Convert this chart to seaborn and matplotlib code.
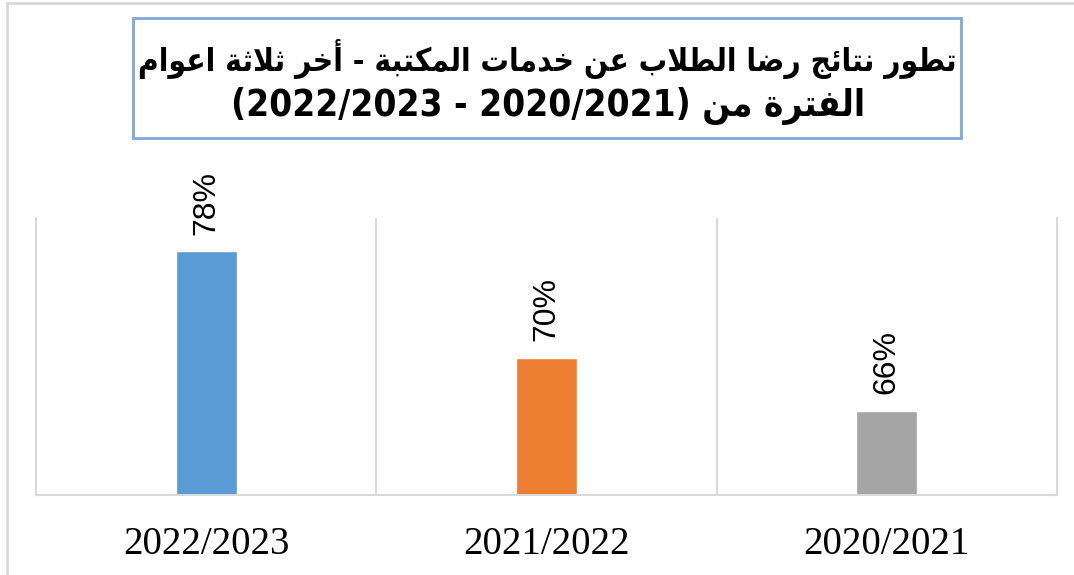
import matplotlib
matplotlib.use("Agg")
import matplotlib.pyplot as plt
from matplotlib.patches import Rectangle
import seaborn as sns
import pandas as pd

# ---- data ----
categories = ["2022/2023", "2021/2022", "2020/2021"]
values = [78, 70, 66]
colors = ["#5B9BD5", "#ED7D31", "#A5A5A5"]
title_line1 = "تطور نتائج رضا الطلاب عن خدمات المكتبة - أخر ثلاثة اعوام"
title_line2_ar = "الفترة من"
period = ("2020/2021", "2022/2023")

# ---- minimal Arabic shaping (presentation forms) ----
FORMS = {
    'ا': (0xFE8D, 0xFE8E, None, None), 'أ': (0xFE83, 0xFE84, None, None),
    'ب': (0xFE8F, 0xFE90, 0xFE91, 0xFE92), 'ة': (0xFE93, 0xFE94, None, None),
    'ت': (0xFE95, 0xFE96, 0xFE97, 0xFE98), 'ث': (0xFE99, 0xFE9A, 0xFE9B, 0xFE9C),
    'ج': (0xFE9D, 0xFE9E, 0xFE9F, 0xFEA0), 'ح': (0xFEA1, 0xFEA2, 0xFEA3, 0xFEA4),
    'خ': (0xFEA5, 0xFEA6, 0xFEA7, 0xFEA8), 'د': (0xFEA9, 0xFEAA, None, None),
    'ذ': (0xFEAB, 0xFEAC, None, None), 'ر': (0xFEAD, 0xFEAE, None, None),
    'ز': (0xFEAF, 0xFEB0, None, None), 'س': (0xFEB1, 0xFEB2, 0xFEB3, 0xFEB4),
    'ش': (0xFEB5, 0xFEB6, 0xFEB7, 0xFEB8), 'ص': (0xFEB9, 0xFEBA, 0xFEBB, 0xFEBC),
    'ض': (0xFEBD, 0xFEBE, 0xFEBF, 0xFEC0), 'ط': (0xFEC1, 0xFEC2, 0xFEC3, 0xFEC4),
    'ظ': (0xFEC5, 0xFEC6, 0xFEC7, 0xFEC8), 'ع': (0xFEC9, 0xFECA, 0xFECB, 0xFECC),
    'غ': (0xFECD, 0xFECE, 0xFECF, 0xFED0), 'ف': (0xFED1, 0xFED2, 0xFED3, 0xFED4),
    'ق': (0xFED5, 0xFED6, 0xFED7, 0xFED8), 'ك': (0xFED9, 0xFEDA, 0xFEDB, 0xFEDC),
    'ل': (0xFEDD, 0xFEDE, 0xFEDF, 0xFEE0), 'م': (0xFEE1, 0xFEE2, 0xFEE3, 0xFEE4),
    'ن': (0xFEE5, 0xFEE6, 0xFEE7, 0xFEE8), 'ه': (0xFEE9, 0xFEEA, 0xFEEB, 0xFEEC),
    'و': (0xFEED, 0xFEEE, None, None), 'ي': (0xFEF1, 0xFEF2, 0xFEF3, 0xFEF4),
    'ئ': (0xFE89, 0xFE8A, 0xFE8B, 0xFE8C),
}
LAM_ALEF = {'ا': (0xFEFB, 0xFEFC, None, None), 'أ': (0xFEF7, 0xFEF8, None, None)}


def rtl(text):
    toks = []
    i = 0
    while i < len(text):
        c = text[i]
        if c == 'ل' and i + 1 < len(text) and text[i + 1] in LAM_ALEF:
            toks.append(LAM_ALEF[text[i + 1]])
            i += 2
            continue
        toks.append(FORMS.get(c, c))
        i += 1
    out = []
    for k, t in enumerate(toks):
        if isinstance(t, str):
            out.append(t)
            continue
        prev = toks[k - 1] if k > 0 else None
        nxt = toks[k + 1] if k + 1 < len(toks) else None
        pj = isinstance(prev, tuple) and prev[2] is not None
        nj = t[2] is not None and isinstance(nxt, tuple)
        if pj and nj:
            code = t[3]
        elif pj:
            code = t[1]
        elif nj:
            code = t[2]
        else:
            code = t[0]
        out.append(chr(code))
    return "".join(out)[::-1]


df = pd.DataFrame({"year": categories, "value": values})

sns.set_theme(style="white")
plt.rcParams["font.family"] = ["DejaVu Sans"]

W, H = 1074, 575
fig = plt.figure(figsize=(W / 100, H / 100), dpi=100)
ax = fig.add_axes([36 / W, (H - 495) / H, (1057 - 36) / W, (495 - 218) / H])

sns.barplot(data=df, x="year", y="value", hue="year", palette=colors,
            width=0.18, legend=False, ax=ax, saturation=1)

ax.set_ylim(59.7, 80.5)
ax.set_xlim(-0.5, len(categories) - 0.5)
ax.set_yticks([])
ax.set_xlabel("")
ax.set_ylabel("")

grid_c = "#D9D9D9"
for x in [0.5, 1.5]:
    ax.axvline(x, color=grid_c, lw=1.5, zorder=0)
for s in ["left", "right", "bottom"]:
    ax.spines[s].set_visible(True)
    ax.spines[s].set_color(grid_c)
    ax.spines[s].set_linewidth(1.5)
ax.spines["top"].set_visible(False)

ax.tick_params(axis="x", length=0, pad=22)
for lab in ax.get_xticklabels():
    lab.set_fontfamily("Liberation Serif")
    lab.set_fontsize(28)
    lab.set_color("#000000")

for cont in ax.containers:
    ax.bar_label(cont, labels=[f"{v:.0f}%" for v in cont.datavalues],
                 rotation=90, padding=12, fontsize=23,
                 fontfamily="Liberation Sans", color="#000000")

# figure border (chart area)
fig.patches.append(Rectangle((7 / W, -0.05), 1.2, (H - 3) / H + 0.05,
                             transform=fig.transFigure, fill=False,
                             edgecolor=grid_c, lw=2))

# title box
fig.patches.append(Rectangle((133 / W, (H - 138) / H), (961 - 133) / W, 120 / H,
                             transform=fig.transFigure, fill=False,
                             edgecolor="#7EA6E0", lw=2))
fig.text(547 / W, (H - 59) / H, rtl(title_line1), ha="center", va="center",
         fontsize=22.7, fontweight="bold", fontstretch="condensed",
         family=["DejaVu Sans"], color="black")
line2 = f"({period[1]} - {period[0]}) " + rtl(title_line2_ar)
fig.text(548 / W, (H - 106) / H, line2, ha="center", va="center",
         fontsize=26.5, fontweight="bold", fontstretch="condensed",
         family=["DejaVu Sans"], color="black")

fig.savefig("out.png", dpi=100, facecolor="white")
